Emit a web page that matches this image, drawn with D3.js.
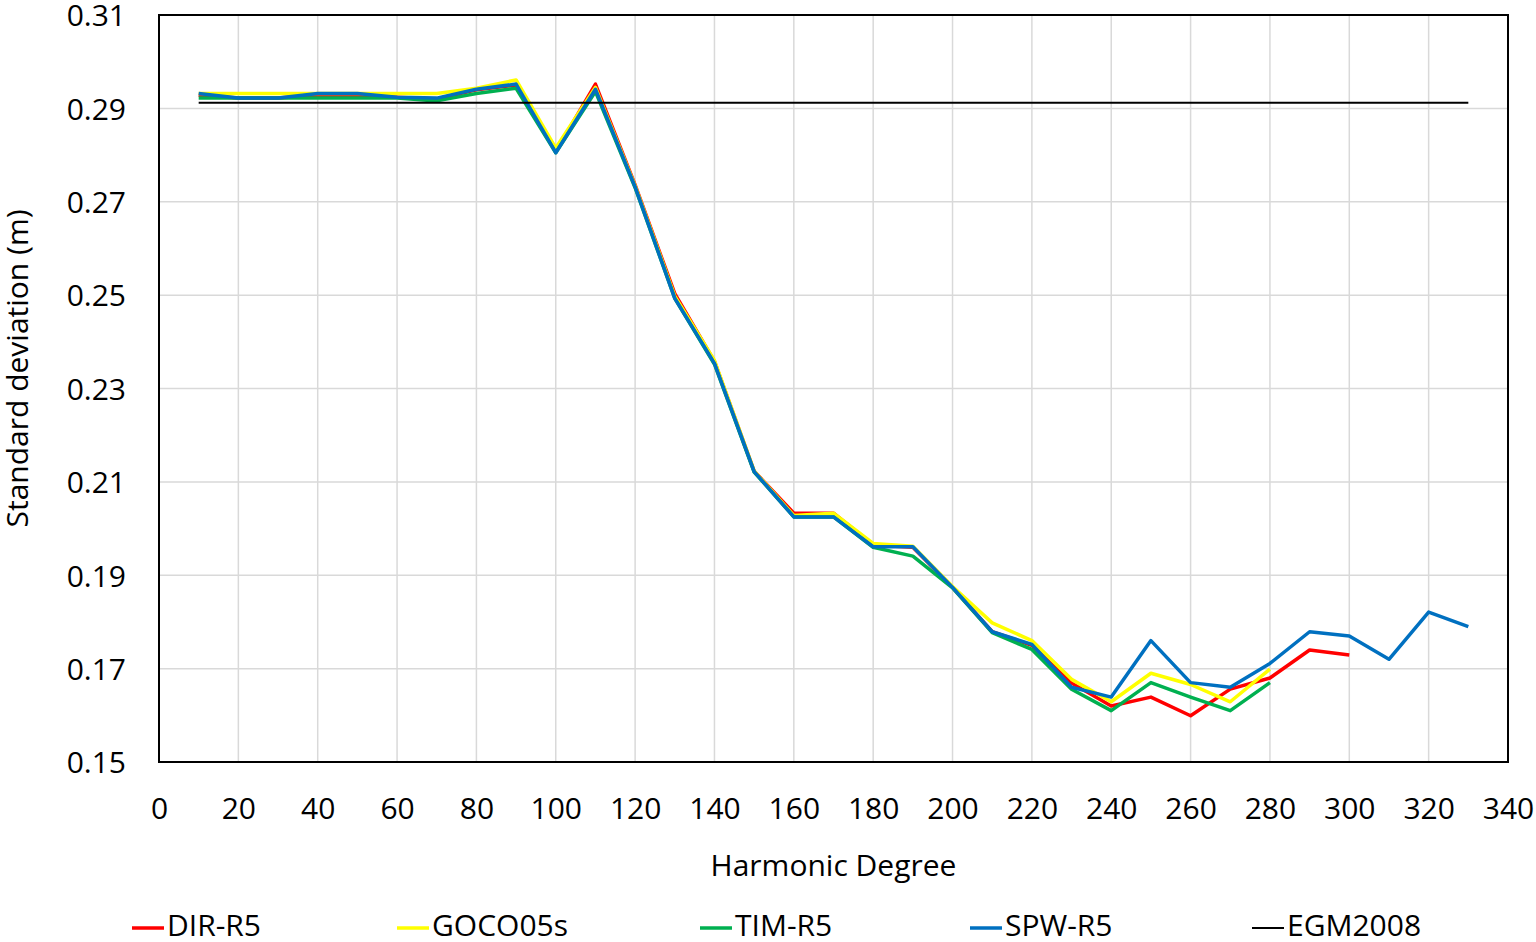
<!DOCTYPE html>
<html><head><meta charset="utf-8">
<script src="https://cdn.jsdelivr.net/npm/d3@7"></script>
<style>
html,body{margin:0;padding:0;background:#fff;}
svg text{font-family:"Open Sans",sans-serif;fill:#000;}
</style></head>
<body><svg id="c" width="1536" height="942"></svg>
<script>
const degrees = [10,20,30,40,50,60,70,80,90,100,110,120,130,140,150,160,170,180,190,200,210,220,230,240,250,260,270,280,290,300,310,320,330];
const dirR5 = [0.2928,0.2922,0.2922,0.2928,0.2928,0.2924,0.2920,0.2940,0.2950,0.2808,0.2952,0.2736,0.2503,0.2358,0.2123,0.2033,0.2033,0.1965,0.1960,0.1874,0.1779,0.1750,0.1669,0.1620,0.1639,0.1599,0.1656,0.1680,0.1740,0.1729];
const goco05s = [0.2932,0.2932,0.2932,0.2932,0.2932,0.2932,0.2932,0.2943,0.2961,0.2815,0.2945,0.2734,0.2498,0.2360,0.2123,0.2028,0.2033,0.1968,0.1962,0.1876,0.1798,0.1760,0.1677,0.1629,0.1690,0.1666,0.1629,0.1699];
const timR5 = [0.2922,0.2922,0.2922,0.2922,0.2922,0.2922,0.2916,0.2932,0.2943,0.2805,0.2936,0.2730,0.2493,0.2352,0.2121,0.2025,0.2025,0.1960,0.1941,0.1873,0.1777,0.1741,0.1656,0.1610,0.1670,0.1639,0.1610,0.1670];
const spwR5 = [0.2932,0.2922,0.2922,0.2932,0.2932,0.2924,0.2922,0.2941,0.2952,0.2805,0.2941,0.2732,0.2493,0.2354,0.2122,0.2025,0.2025,0.1961,0.1961,0.1874,0.1779,0.1752,0.1660,0.1639,0.1760,0.1670,0.1660,0.1711,0.1779,0.1770,0.1720,0.1821,0.1790];
const egm2008 = degrees.map(() => 0.2912);
const xTicks = d3.range(0, 341, 20);
const yTicks = [0.15,0.17,0.19,0.21,0.23,0.25,0.27,0.29,0.31];

const series = [
  {name:"DIR-R5", values:dirR5, color:"#ff0000", w:3.5},
  {name:"GOCO05s", values:goco05s, color:"#ffff00", w:3.5},
  {name:"TIM-R5", values:timR5, color:"#00b050", w:3.5},
  {name:"SPW-R5", values:spwR5, color:"#0070c0", w:3.5},
  {name:"EGM2008", values:egm2008, color:"#000000", w:2}
];

const FS = 30;
const svg = d3.select("#c");
const L=159, R=1508, T=15, B=762;
const x = d3.scaleLinear().domain([0,340]).range([L,R]);
const y = d3.scaleLinear().domain([0.15,0.31]).range([B,T]);

// gridlines
svg.append("g").selectAll("line").data(xTicks.slice(1)).join("line")
  .attr("x1",d=>x(d)).attr("x2",d=>x(d)).attr("y1",T).attr("y2",B)
  .attr("stroke","#d9d9d9").attr("stroke-width",1.5);
svg.append("g").selectAll("line").data(yTicks.slice(1)).join("line")
  .attr("x1",L).attr("x2",R).attr("y1",d=>y(d)).attr("y2",d=>y(d))
  .attr("stroke","#d9d9d9").attr("stroke-width",1.5);

// axes
const xa = svg.append("g").attr("transform",`translate(0,${B})`)
  .call(d3.axisBottom(x).tickValues(xTicks).tickSize(0).tickPadding(46).tickFormat(d3.format("d")));
const ya = svg.append("g").attr("transform",`translate(${L},0)`)
  .call(d3.axisLeft(y).tickValues(yTicks).tickSize(0).tickPadding(33).tickFormat(d3.format(".2f")));
[xa,ya].forEach(g=>{
  g.select(".domain").remove();
  g.selectAll("text").attr("font-size",FS).attr("font-family","Open Sans").attr("fill","#000");
});
xa.selectAll("text").attr("dy","0.35em");
ya.selectAll("text").attr("dy","0.36em");

// frame
svg.append("rect").attr("x",L).attr("y",T).attr("width",R-L).attr("height",B-T)
  .attr("fill","none").attr("stroke","#000").attr("stroke-width",2);

// lines
const line = d3.line().x((d,i)=>x(degrees[i])).y(d=>y(d));
svg.append("g").selectAll("path").data(series).join("path")
  .attr("d",s=>line(s.values)).attr("fill","none")
  .attr("stroke",s=>s.color).attr("stroke-width",s=>s.w)
  .attr("stroke-linejoin","round");

// axis titles
svg.append("text").attr("x",(L+R)/2).attr("y",868).attr("text-anchor","middle")
  .attr("dominant-baseline","middle").attr("font-size",FS).text("Harmonic Degree");
svg.append("text").attr("transform",`translate(20,${(T+B)/2 - 20}) rotate(-90)`)
  .attr("text-anchor","middle").attr("dominant-baseline","middle")
  .attr("font-size",FS).text("Standard deviation (m)");

// legend
const legX = [132,397,700,970,1252];
const lg = svg.append("g").selectAll("g").data(series).join("g")
  .attr("transform",(d,i)=>`translate(${legX[i]},928)`);
lg.append("line").attr("x1",0).attr("x2",32).attr("y1",0).attr("y2",0)
  .attr("stroke",d=>d.color).attr("stroke-width",d=>d.name==="EGM2008"?2:3.5);
lg.append("text").attr("x",35).attr("y",0).attr("dominant-baseline","middle")
  .attr("font-size",FS).text(d=>d.name);
</script></body></html>
